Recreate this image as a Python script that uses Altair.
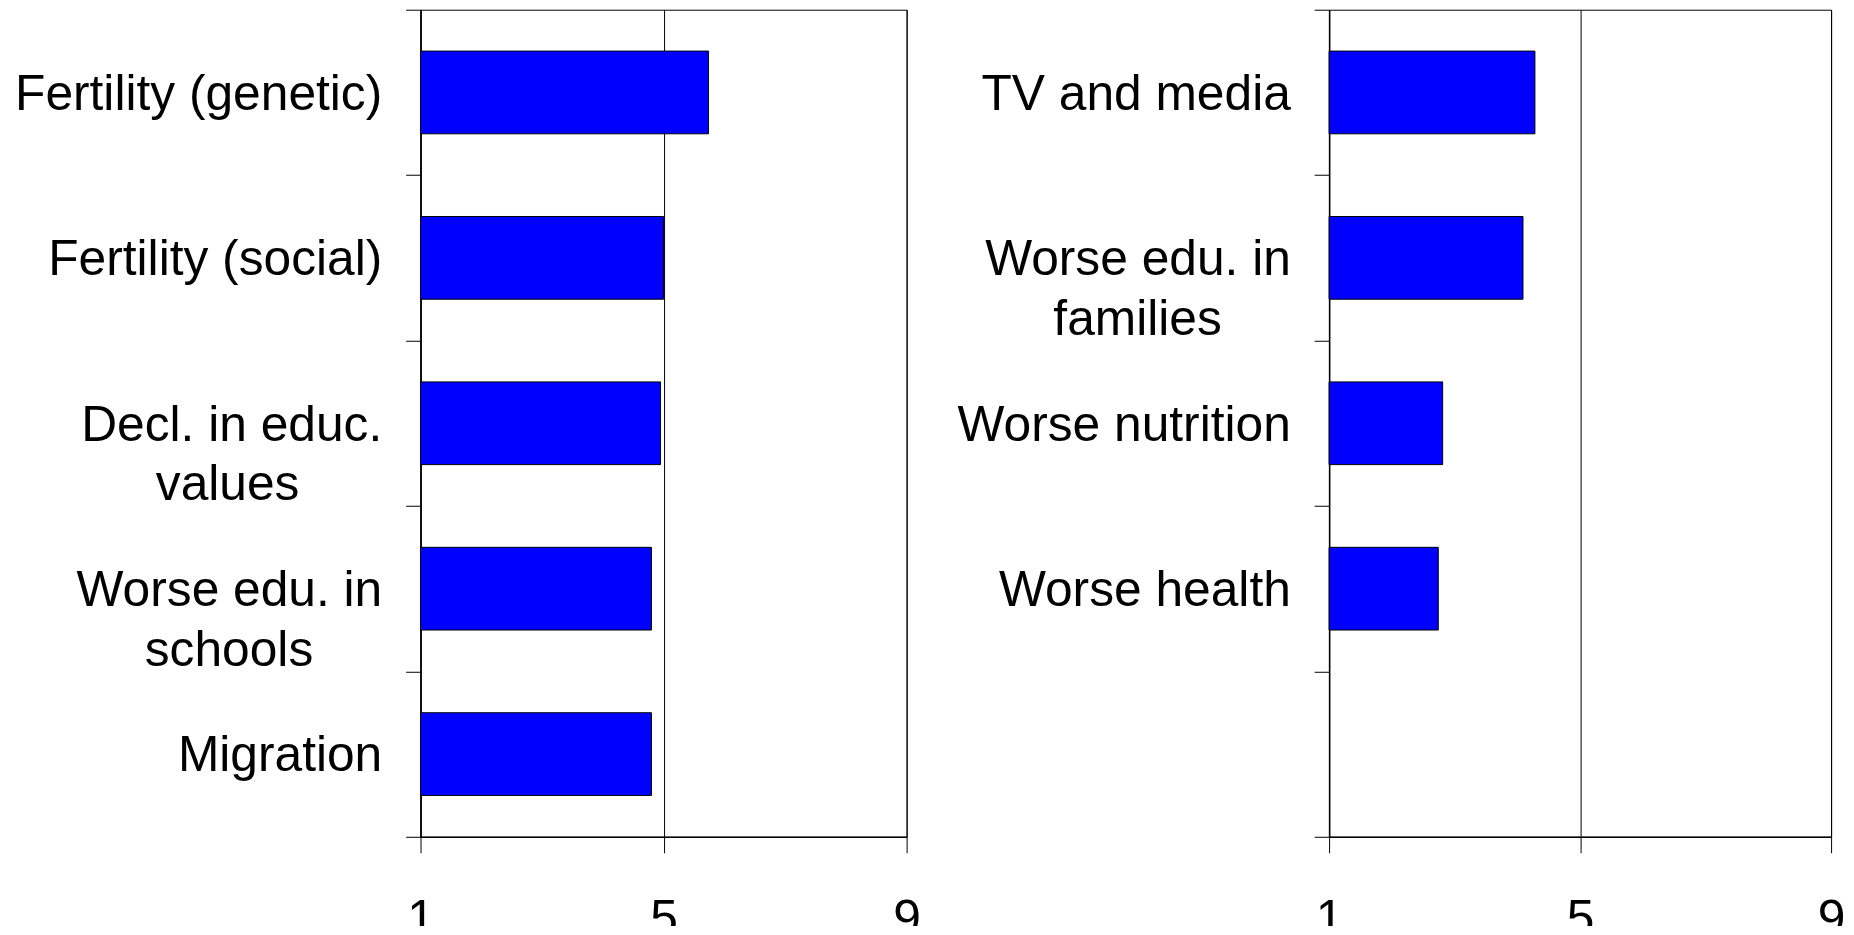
import altair as alt
import pandas as pd

# ---- data ----
left_categories = ["Fertility (genetic)", "Fertility (social)", "Decl. in educ.\nvalues",
                   "Worse edu. in\nschools", "Migration"]
left_values = [5.74, 5.0, 4.95, 4.8, 4.8]

right_categories = ["TV and media", "Worse edu. in\nfamilies", "Worse nutrition",
                    "Worse health", ""]
right_values = [4.28, 4.09, 2.81, 2.74]

x_ticks = [1, 5, 9]

FONT = "Liberation Sans"
FS = 50

# Arial/Liberation Sans advance widths (1/1000 em), used to centre the
# second line of two-line labels under the first (Excel-style labels)
W = {" ": 278, "\u00a0": 278, ".": 278, "(": 333, ")": 333,
     "a": 556, "c": 500, "d": 556, "e": 556, "f": 278, "g": 556, "h": 556,
     "i": 222, "l": 222, "m": 833, "n": 556, "o": 556, "r": 333, "s": 500,
     "t": 278, "u": 556, "v": 500, "y": 500, "D": 722, "F": 611, "M": 833,
     "T": 611, "V": 667, "W": 944}


def tw(s):
    return sum(W.get(c, 556) for c in s)


def display(label):
    lines = label.split("\n")
    if len(lines) == 1:
        return label
    top, bottom = lines
    n = round((tw(top) - tw(bottom)) / 2 / W["\u00a0"])
    # trailing no-break spaces, closed by a word joiner so they are not trimmed
    return top + "\n" + bottom + "\u00a0" * max(n, 0) + "\u2060"


def panel(categories, values, width, height):
    shown = [display(c) for c in categories]
    df = pd.DataFrame({"cat": shown[:len(values)], "value": values})
    return alt.Chart(df).mark_bar(
        color="#0000FF", stroke="black", strokeWidth=1,
        height=alt.RelativeBandSize(band=0.5)
    ).encode(
        y=alt.Y("cat:N", sort=shown,
                scale=alt.Scale(domain=shown, paddingInner=0, paddingOuter=0),
                axis=alt.Axis(title=None, tickBand="extent", tickSize=15,
                              labelPadding=24, labelFontSize=FS, labelFont=FONT,
                              labelLimit=1000, labelLineHeight=60, labelOffset=2,
                              labelExpr="split(datum.label, '\\n')",
                              labelColor="black", tickColor="black",
                              domainColor="black", domainWidth=1.5, grid=False)),
        x=alt.X("value:Q",
                scale=alt.Scale(domain=[x_ticks[0], x_ticks[-1]], nice=False, zero=False),
                axis=alt.Axis(title=None, values=x_ticks, format="d", grid=True,
                              gridColor="black", gridWidth=1, gridOpacity=1,
                              tickSize=16, tickColor="black", labelPadding=42,
                              labelFontSize=FS, labelFont=FONT, labelColor="black",
                              labelFlush=False, labelOverlap=False,
                              domainColor="black", domainWidth=1.5)),
        x2=alt.datum(x_ticks[0]),
    ).properties(width=width, height=height)


left = panel(left_categories, left_values, 489, 832)
right = panel(right_categories, right_values, 505, 832)

chart = alt.hconcat(left, right, spacing=35).configure(
    font=FONT,
    padding={"left": 5, "top": -27, "right": 0, "bottom": -22},
).configure_view(stroke="black", strokeWidth=1)

chart.save("out.html", embed_options={"renderer": "svg", "actions": False})
